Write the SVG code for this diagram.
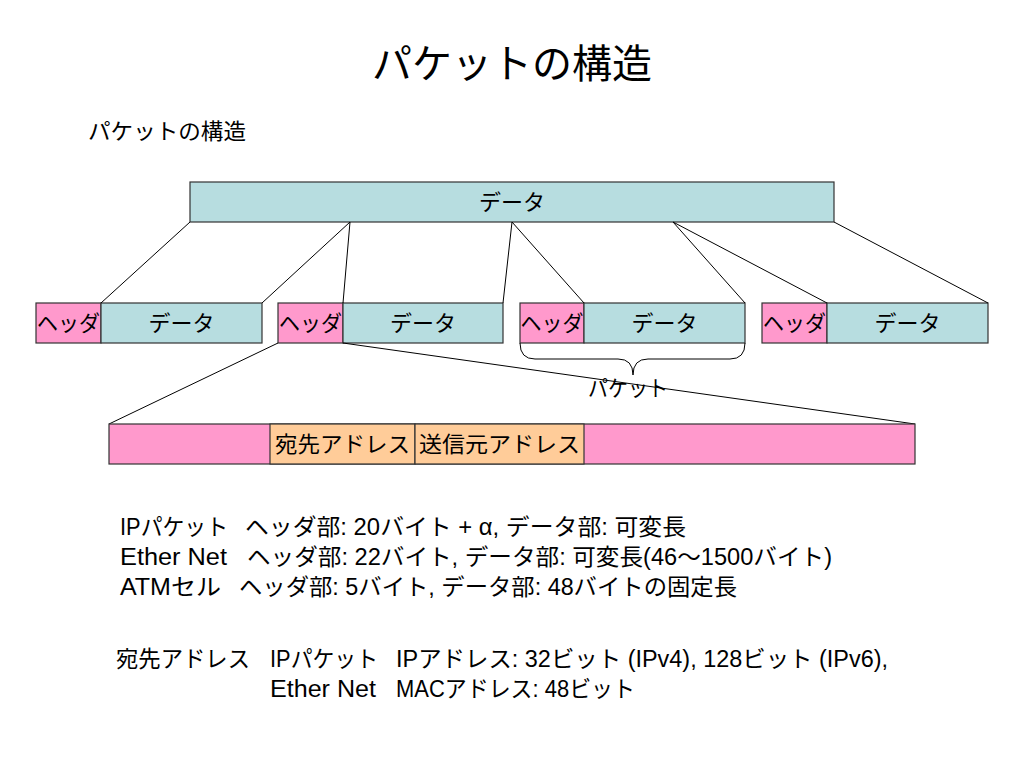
<svg xmlns="http://www.w3.org/2000/svg" width="1024" height="768" viewBox="0 0 1024 768">
<style>
text{font-family:"Liberation Sans","Noto Sans CJK JP",sans-serif;fill:#000}
.d{fill:#b7dde0;stroke:#333;stroke-width:1.2}
.h{fill:#ff99cc;stroke:#333;stroke-width:1.2}
.o{fill:#ffcc99;stroke:#333;stroke-width:1.2}
.l{stroke:#000;stroke-width:1;fill:none}
.c{font-size:22px;text-anchor:middle}
.t{font-size:23px}
</style>
<rect width="1024" height="768" fill="#fff"/>
<text x="512" y="78" font-size="40" text-anchor="middle">パケットの構造</text>
<text x="88" y="139" font-size="22" textLength="158" lengthAdjust="spacingAndGlyphs">パケットの構造</text>

<g id="top"><rect class="d" x="190" y="182" width="644" height="40"/><text class="c" x="512" y="210">データ</text></g>

<g id="p1"><rect class="h" x="36" y="303" width="65" height="40"/><text class="c" x="68.5" y="331" textLength="63" lengthAdjust="spacingAndGlyphs">ヘッダ</text><rect class="d" x="101" y="303" width="161" height="40"/><text class="c" x="181.5" y="331">データ</text></g>
<g id="p2"><rect class="h" x="278" y="303" width="65" height="40"/><text class="c" x="310.5" y="331" textLength="63" lengthAdjust="spacingAndGlyphs">ヘッダ</text><rect class="d" x="343" y="303" width="160" height="40"/><text class="c" x="423" y="331">データ</text></g>
<g id="p3"><rect class="h" x="520" y="303" width="64" height="40"/><text class="c" x="552" y="331" textLength="63" lengthAdjust="spacingAndGlyphs">ヘッダ</text><rect class="d" x="584" y="303" width="161" height="40"/><text class="c" x="664.5" y="331">データ</text></g>
<g id="p4"><rect class="h" x="762" y="303" width="65" height="40"/><text class="c" x="794.5" y="331" textLength="63" lengthAdjust="spacingAndGlyphs">ヘッダ</text><rect class="d" x="827" y="303" width="161" height="40"/><text class="c" x="907.5" y="331">データ</text></g>

<g id="connectors">
<line class="l" x1="190" y1="222" x2="101" y2="303"/>
<line class="l" x1="350" y1="222" x2="262" y2="303"/>
<line class="l" x1="350" y1="222" x2="343" y2="303"/>
<line class="l" x1="512" y1="222" x2="503" y2="303"/>
<line class="l" x1="512" y1="222" x2="584" y2="303"/>
<line class="l" x1="673" y1="222" x2="745" y2="303"/>
<line class="l" x1="673" y1="222" x2="827" y2="303"/>
<line class="l" x1="834" y1="222" x2="988" y2="303"/>
<line class="l" x1="278" y1="343" x2="109" y2="424"/>
<line class="l" x1="343" y1="343" x2="915" y2="424"/>
<path class="l" d="M520,343 Q520,359 535,359 L618,359 Q633,359 633,375 Q633,359 648,359 L730,359 Q745,359 745,343"/>
</g>
<text x="628" y="396" font-size="22" text-anchor="middle" textLength="80" lengthAdjust="spacingAndGlyphs">パケット</text>

<g id="header-detail">
<rect class="h" x="109" y="424" width="806" height="40"/>
<rect class="o" x="270" y="424" width="145" height="40"/>
<text x="275" y="452" font-size="22" textLength="135" lengthAdjust="spacingAndGlyphs">宛先アドレス</text>
<rect class="o" x="415" y="424" width="169" height="40"/>
<text x="419" y="452" font-size="22" textLength="161" lengthAdjust="spacingAndGlyphs">送信元アドレス</text>
</g>

<g id="notes">
<text class="t" x="120" y="535" textLength="108" lengthAdjust="spacingAndGlyphs">IPパケット</text>
<text class="t" x="245" y="535" textLength="441" lengthAdjust="spacingAndGlyphs">ヘッダ部: 20バイト + α, データ部: 可変長</text>
<text class="t" x="120" y="565" textLength="107" lengthAdjust="spacingAndGlyphs">Ether Net</text>
<text class="t" x="247" y="565" textLength="585" lengthAdjust="spacingAndGlyphs">ヘッダ部: 22バイト, データ部: 可変長(46～1500バイト)</text>
<text class="t" x="120" y="595" textLength="101" lengthAdjust="spacingAndGlyphs">ATMセル</text>
<text class="t" x="239" y="595" textLength="498" lengthAdjust="spacingAndGlyphs">ヘッダ部: 5バイト, データ部: 48バイトの固定長</text>
<text class="t" x="116" y="667" textLength="134" lengthAdjust="spacingAndGlyphs">宛先アドレス</text>
<text class="t" x="270" y="667" textLength="108" lengthAdjust="spacingAndGlyphs">IPパケット</text>
<text class="t" x="396" y="667" textLength="492" lengthAdjust="spacingAndGlyphs">IPアドレス: 32ビット (IPv4), 128ビット (IPv6),</text>
<text class="t" x="270" y="697" textLength="106" lengthAdjust="spacingAndGlyphs">Ether Net</text>
<text class="t" x="396" y="697" textLength="239" lengthAdjust="spacingAndGlyphs">MACアドレス: 48ビット</text>
</g>
</svg>
